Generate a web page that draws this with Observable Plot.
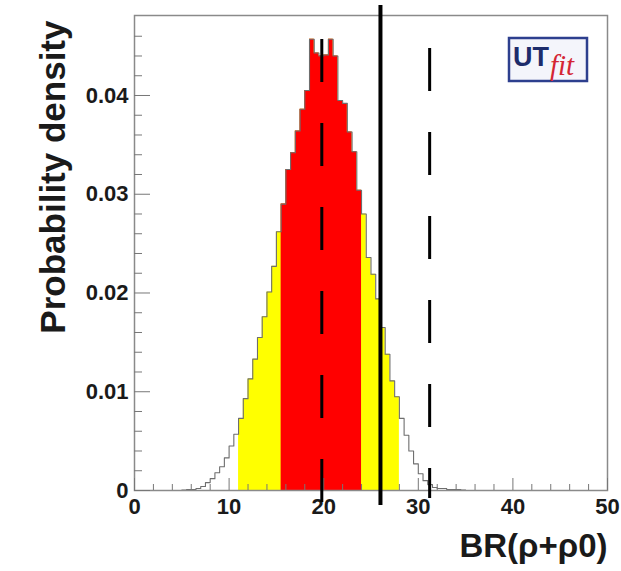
<!DOCTYPE html>
<html><head><meta charset="utf-8">
<script src="https://cdn.jsdelivr.net/npm/d3@7"></script>
<script src="https://cdn.jsdelivr.net/npm/@observablehq/plot@0.6"></script>
<style>
body{margin:0;background:#fff;}
#chart{width:621px;height:571px;}
</style>
</head><body><div id="chart"></div>
<script>
// ---- data ----
const binWidth = 0.5;           // histogram bin width, bins start at 0
const density = [
  0,0,0,0,0,0,0,0,0,0,
  0.00005,0.0001,0.0001,0.0002,0.0004,0.0008,0.0012,0.0018,0.0024,0.0033,
  0.0045,0.0057,0.0073,0.0093,0.0113,0.0133,0.0155,0.0176,0.0201,0.0227,
  0.0262,0.0290,0.0325,0.0342,0.0364,0.0386,0.0405,0.0457,0.0443,0.0440,
  0.0441,0.0457,0.0440,0.0395,0.0392,0.0363,0.0343,0.0304,0.0280,0.0236,
  0.0219,0.0194,0.0165,0.0138,0.0111,0.0095,0.0073,0.0056,0.0040,0.0027,
  0.0017,0.0010,0.0006,0.0003,0.0002,0.0002,0.0001,0.0001,0.0001,0.00005,
  0,0,0,0,0,0,0,0,0,0,
  0,0,0,0,0,0,0,0,0,0,
  0,0,0,0,0,0,0,0,0,0
];
const range95 = [11.0, 28.0];   // yellow
const range68 = [15.5, 24.0];   // red
const measured = [26.0];        // solid line
const measuredErr = [19.8, 31.2]; // dashed lines
const xTicks = [0, 10, 20, 30, 40, 50];
const xMinor = [2,4,6,8,12,14,16,18,22,24,26,28,32,34,36,38,42,44,46,48];
const yTicks = [0, 0.01, 0.02, 0.03, 0.04];
const yMinor = [0.002,0.004,0.006,0.008,0.012,0.014,0.016,0.018,0.022,0.024,0.026,0.028,0.032,0.034,0.036,0.038,0.042,0.044,0.046];
const xTitle = "BR(ρ+ρ0)";
const yTitle = "Probability density";

// ---- build tables ----
const bins = density.map((v, i) => ({x0: i * binWidth, x1: (i + 1) * binWidth, v}));
function stepPoints(lo, hi) {
  const sel = bins.filter(b => b.x0 >= lo - 1e-9 && b.x1 <= hi + 1e-9);
  const pts = sel.map(b => ({x: b.x0, y: b.v}));
  const last = sel[sel.length - 1];
  pts.push({x: last.x1, y: last.v});
  return pts;
}
const allPts = stepPoints(0, 50);
const yellowPts = stepPoints(range95[0], range95[1]);
const redPts = stepPoints(range68[0], range68[1]);

const FONT = "'Liberation Sans', Arial, Helvetica, sans-serif";

function logo(index, scales, values, dim) {
  const w = 78, h = 43;
  const x0 = dim.width - dim.marginRight - 20 - w;
  const y0 = dim.marginTop + 23;
  const g = d3.create("svg:g").attr("transform", `translate(${x0},${y0})`)
    .attr("text-anchor", "start");
  g.append("rect").attr("width", w).attr("height", h)
    .attr("fill", "#f4f5fb").attr("stroke", "#2d3f8e").attr("stroke-width", 2.5);
  g.append("text").attr("x", 4).attr("y", 28).text("UT")
    .style("text-anchor", "start")
    .style("font-family", FONT).style("font-weight", "bold").style("font-size", "27px")
    .style("fill", "#1d2c6b");
  g.append("text").attr("x", 41).attr("y", 37).text("fit")
    .style("text-anchor", "start")
    .style("font-family", "'Liberation Serif', 'Times New Roman', serif").style("font-style", "italic")
    .style("font-size", "29px").style("fill", "#d42634");
  return g.node();
}

const chart = Plot.plot({
  width: 621, height: 571,
  marginLeft: 134, marginRight: 14, marginTop: 15, marginBottom: 81,
  x: {domain: [0, 50]},
  y: {domain: [0, 0.0481]},
  style: {fontFamily: FONT, background: "#fff"},
  marks: [
    Plot.areaY(yellowPts, {x: "x", y: "y", curve: "step-after", fill: "#ffff00"}),
    Plot.areaY(redPts, {x: "x", y: "y", curve: "step-after", fill: "#ff0000"}),
    Plot.line(allPts, {x: "x", y: "y", curve: "step-after", stroke: "#6e6e6e", strokeWidth: 1.1}),
    Plot.frame({stroke: "#8a8a8a", strokeWidth: 1.5}),
    // ticks inside the frame
    Plot.axisX(xTicks, {tickSize: -12, tickFormat: () => "", stroke: "#777", label: null}),
    Plot.axisX(xMinor, {tickSize: -6, tickFormat: () => "", stroke: "#777", label: null}),
    Plot.axisY(yTicks, {tickSize: -16, tickFormat: () => "", stroke: "#777", label: null}),
    Plot.axisY(yMinor, {tickSize: -8, tickFormat: () => "", stroke: "#777", label: null}),
    // tick labels
    Plot.axisX(xTicks, {tickSize: 0, tickPadding: 8, fontSize: 22, fontWeight: "bold", color: "#1a1a1a",
      tickFormat: d => String(d), label: null}),
    Plot.axisY(yTicks, {tickSize: 0, tickPadding: 6, fontSize: 22, fontWeight: "bold", color: "#1a1a1a",
      tickFormat: d => d === 0 ? "0" : d.toFixed(2), label: null}),
    // titles
    Plot.text([yTitle], {text: d => d, frameAnchor: "top-left", rotate: -90, textAnchor: "end",
      dx: -94, dy: 5, fontSize: 35, fontWeight: "bold", fill: "#1a1a1a"}),
    Plot.text([xTitle], {text: d => d, frameAnchor: "bottom-right", textAnchor: "end", lineAnchor: "middle",
      dx: 0, dy: 56, fontSize: 33, fontWeight: "bold", fill: "#1a1a1a"}),
    // measurement lines
    Plot.ruleX(measuredErr.slice(0, 1), {stroke: "black", strokeWidth: 3, strokeDasharray: "43,41",
      insetTop: 24, insetBottom: -15}),
    Plot.ruleX(measuredErr.slice(1, 2), {stroke: "black", strokeWidth: 3, strokeDasharray: "43,41",
      insetTop: 33, insetBottom: -8}),
    Plot.ruleX(measured, {stroke: "black", strokeWidth: 4, insetTop: -10, insetBottom: -15}),
    logo
  ]
});
document.getElementById("chart").appendChild(chart);
</script>
</body></html>
